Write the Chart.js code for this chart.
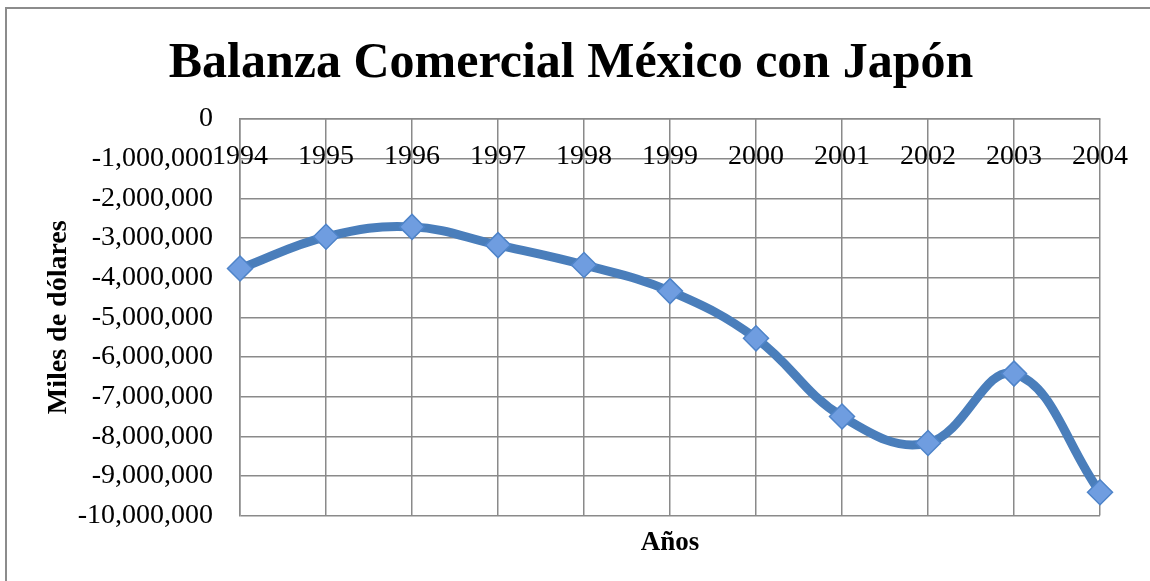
<!DOCTYPE html>
<html>
<head>
<meta charset="utf-8">
<script src="https://cdn.jsdelivr.net/npm/chart.js@4.4.1/dist/chart.umd.min.js"></script>
<style>
  html, body { margin: 0; padding: 0; background: #fff; overflow: hidden; }
  #wrap { position: relative; width: 1150px; height: 581px; }
  #frame { position: absolute; left: 5px; top: 7px; width: 1300px; height: 700px;
           border: 2px solid #8c8c8c; pointer-events: none; }
  canvas { position: absolute; left: 0; top: 0; }
</style>
</head>
<body>
<div id="wrap">
  <div id="frame"></div>
  <canvas id="chart" width="1150" height="581"></canvas>
</div>
<script>
// Balanza comercial de México con Japón, miles de dólares
const years = ['1994', '1995', '1996', '1997', '1998', '1999', '2000', '2001', '2002', '2003', '2004'];
const balance = [-3770000, -2970000, -2720000, -3180000, -3680000, -4340000, -5530000, -7500000, -8170000, -6420000, -9410000];
const yMin = -10000000;
const yMax = 0;
const yStep = 1000000;

const serif = "'Liberation Serif', 'DejaVu Serif', serif";
const gridGray = '#8a8a8a';

document.addEventListener('DOMContentLoaded', () => {
    const ctx = document.getElementById('chart').getContext('2d');
    new Chart(ctx, {
        type: 'line',
        data: {
            labels: years,
            datasets: [{
                label: 'Balanza',
                data: balance,
                borderColor: '#4a7ebb',
                borderWidth: 9,
                tension: 0.4,
                pointStyle: 'rectRot',
                pointRadius: 12.5,
                pointBackgroundColor: '#6f9de0',
                pointBorderColor: '#4f84c9',
                pointBorderWidth: 1.5
            }]
        },
        options: {
            responsive: false,
            animation: false,
            layout: { padding: { left: 42, right: 50, top: 8, bottom: 22 } },
            plugins: {
                legend: { display: false },
                tooltip: { enabled: false },
                title: {
                    display: true,
                    text: 'Balanza Comercial México con Japón',
                    color: '#000',
                    font: { family: serif, size: 50, weight: 'bold' },
                    padding: { top: 26, bottom: 25 }
                }
            },
            scales: {
                x: {
                    type: 'category',
                    position: { y: 0 },
                    offset: false,
                    grid: { display: true, color: gridGray, lineWidth: 1.5, drawTicks: false },
                    border: { display: true, color: gridGray, width: 1.5 },
                    ticks: {
                        color: '#000',
                        padding: 21,
                        maxRotation: 0,
                        autoSkip: false,
                        font: { family: serif, size: 28 }
                    }
                },
                x2: {
                    type: 'category',
                    labels: years,
                    position: 'bottom',
                    offset: false,
                    grid: { display: false, drawTicks: false },
                    border: { display: false },
                    ticks: { display: false },
                    title: {
                        display: true,
                        text: 'Años',
                        color: '#000',
                        font: { family: serif, size: 27, weight: 'bold' },
                        padding: { top: 11, bottom: 0 }
                    }
                },
                y: {
                    min: yMin,
                    max: yMax,
                    afterFit: (scale) => { scale.width = 240 - 42; },
                    grid: { color: gridGray, lineWidth: 1.5, drawTicks: false },
                    border: { display: true, color: gridGray, width: 1.5 },
                    ticks: {
                        stepSize: yStep,
                        color: '#000',
                        padding: 27,
                        font: { family: serif, size: 28 },
                        callback: (value) => value.toLocaleString('en-US')
                    },
                    title: {
                        display: true,
                        text: 'Miles de dólares',
                        color: '#000',
                        font: { family: serif, size: 28, weight: 'bold' },
                        padding: { top: 0, bottom: 4 }
                    }
                }
            }
        }
    });
});
</script>
</body>
</html>
